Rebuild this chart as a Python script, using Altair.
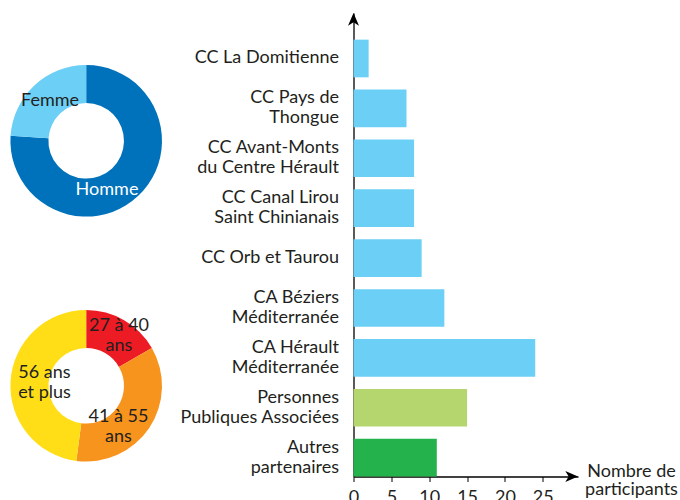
import altair as alt
import pandas as pd

# ---- data ----
categories = [
    "CC La Domitienne",
    "CC Pays de\nThongue",
    "CC Avant-Monts\ndu Centre Hérault",
    "CC Canal Lirou\nSaint Chinianais",
    "CC Orb et Taurou",
    "CA Béziers\nMéditerranée",
    "CA Hérault\nMéditerranée",
    "Personnes\nPubliques Associées",
    "Autres\npartenaires",
]
participants = [2, 7, 8, 8, 9, 12, 24, 15, 11]
groups = ["Intercommunalités"] * 7 + ["Personnes Publiques Associées", "Autres partenaires"]

group_names = ["Intercommunalités", "Personnes Publiques Associées", "Autres partenaires"]
group_colors = ["#6CCFF6", "#B5D56F", "#23B24B"]

sex_labels = ["Homme", "Femme"]
sex_counts = [73, 23]
sex_colors = ["#0072BC", "#6CCFF6"]

age_labels = ["27 à 40\nans", "41 à 55\nans", "56 ans\net plus"]
age_counts = [16, 34, 46]
age_colors = ["#ED1C24", "#F7941D", "#FFDE17"]

x_ticks = [0, 5, 10, 15, 20, 25]
x_title = ["Nombre de", "participants"]

# ---- layout ----
FONT = "Lato"
FS = 18
TXT = "#231F20"
LEFT, TOP, W, H = 353.5, 13, 224.5, 463.5
PX_PER_UNIT = 7.572

bars_df = pd.DataFrame({"cat": categories, "n": participants, "grp": groups})
sex_df = pd.DataFrame({"label": sex_labels, "n": sex_counts, "k": range(len(sex_labels))})
age_df = pd.DataFrame({"label": age_labels, "n": age_counts, "k": range(len(age_labels))})

bars = alt.Chart(bars_df).mark_bar().encode(
    x=alt.X(
        "n:Q",
        scale=alt.Scale(domain=[0, W / PX_PER_UNIT], nice=False, zero=True),
        axis=alt.Axis(
            values=x_ticks, grid=False, domainColor="black", domainWidth=1.3,
            tickColor="black", tickSize=5, tickWidth=1, labelFontSize=FS, labelFont=FONT,
            labelColor=TXT, labelPadding=7, title=x_title, titleFont=FONT,
            titleFontSize=FS, titleFontWeight="normal", titleColor=TXT,
            titleX=W + 53, titleY=0, titleAlign="center", titleBaseline="alphabetic",
            titleLineHeight=18, labelFlush=False,
        ),
    ),
    y=alt.Y(
        "cat:N", sort=categories,
        scale=alt.Scale(paddingInner=0.245, paddingOuter=0.267, align=1),
        axis=alt.Axis(
            title=None, ticks=False, domainColor="black", domainWidth=1.3,
            labelExpr="split(datum.label, '\\n')", labelFontSize=FS, labelFont=FONT,
            labelColor=TXT, labelPadding=15, labelLineHeight=20, labelLimit=300,
            labelBaseline="middle",
            labelOffset={"condition": {"test": "indexof(datum.value, '\\n') >= 0", "value": -10}, "value": 0},
        ),
    ),
    color=alt.Color("grp:N", scale=alt.Scale(domain=group_names, range=group_colors), legend=None),
)

arrow_up = alt.Chart(pd.DataFrame({"a": [0]})).mark_point(
    shape="M0,0L0.5,1.15L0,0.85L-0.5,1.15Z", filled=True, color="black", size=484, opacity=1
).encode(x=alt.value(0), y=alt.value(0))
arrow_right = alt.Chart(pd.DataFrame({"a": [0]})).mark_point(
    shape="M0,0L-1.15,-0.5L-0.85,0L-1.15,0.5Z", filled=True, color="black", size=484, opacity=1
).encode(x=alt.value(W), y=alt.value(H))


def donut(df, colors, cx, cy):
    return alt.Chart(df).mark_arc(innerRadius=37.8, outerRadius=75.8).encode(
        theta=alt.Theta("n:Q", stack=True),
        order=alt.Order("k:Q"),
        color=alt.Color("label:N", scale=alt.Scale(domain=list(df["label"]), range=colors), legend=None),
        x=alt.value(cx - LEFT),
        y=alt.value(cy - TOP),
    )


sex_donut = donut(sex_df, sex_colors, 86.2, 140.8)
age_donut = donut(age_df, age_colors, 86.2, 385.8)


def label(text, x, y, color=TXT):
    return alt.Chart(pd.DataFrame({"t": [text]})).mark_text(
        font=FONT, fontSize=FS, color=color, align="center", baseline="alphabetic",
        lineBreak="\n", lineHeight=20,
    ).encode(text="t:N", x=alt.value(x - LEFT), y=alt.value(y - TOP))


labels = [
    label(sex_labels[1], 50, 106),
    label(sex_labels[0], 107, 195, "white"),
    label(age_labels[0], 119, 331),
    label(age_labels[1], 118.5, 422),
    label(age_labels[2], 44.5, 378),
]

chart = alt.layer(bars, arrow_up, arrow_right, sex_donut, age_donut, *labels).resolve_scale(
    theta="independent", color="independent"
).properties(
    width=W, height=H,
    autosize=alt.AutoSizeParams(type="none"),
    padding={"left": LEFT, "top": TOP, "right": 680 - LEFT - W, "bottom": 500 - TOP - H},
).configure(
    background="white",
    view=alt.ViewConfig(stroke="transparent", strokeWidth=0),
)

chart.save("out.html", embed_options={"renderer": "svg", "actions": False})
